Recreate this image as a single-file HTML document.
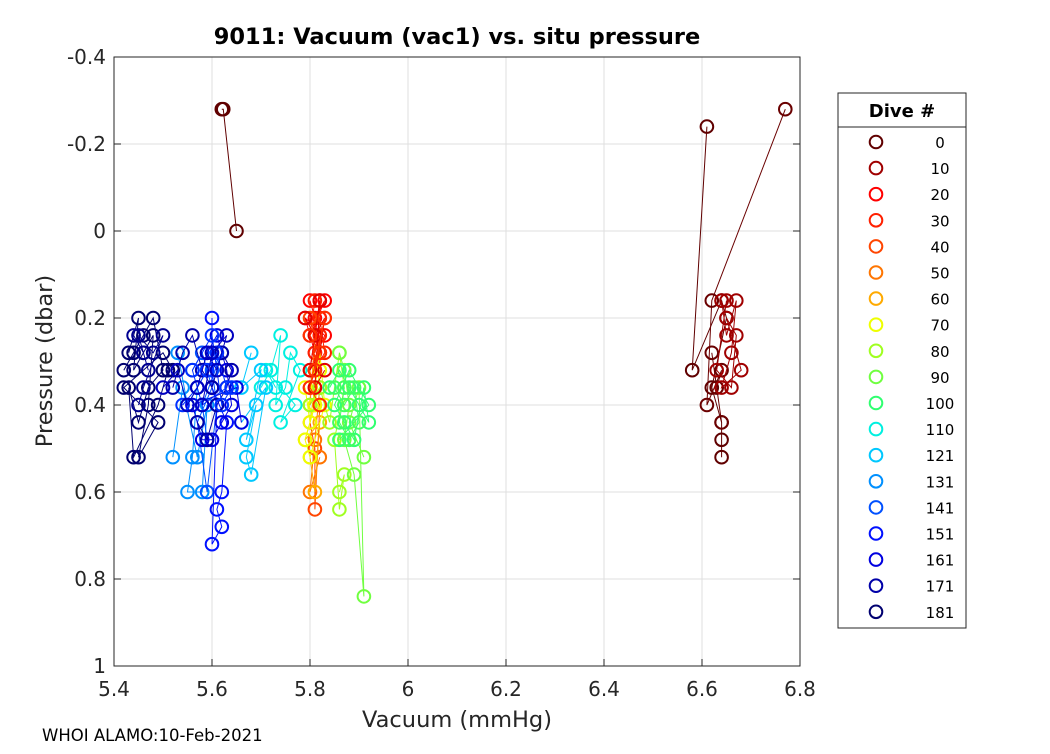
<!DOCTYPE html>
<html><head><meta charset="utf-8"><style>
body{margin:0;background:#fff;width:1050px;height:750px;overflow:hidden;font-family:"DejaVu Sans",sans-serif}
</style></head><body>
<svg id="chart" width="1050" height="750" xmlns="http://www.w3.org/2000/svg" font-family="DejaVu Sans, sans-serif">
<rect x="0" y="0" width="1050" height="750" fill="#fff"/>
<g id="grid"></g>
<g id="series"></g>
<rect x="114" y="57" width="686" height="609" fill="none" stroke="#262626" stroke-width="1"/>
<g id="ticks" font-size="20" fill="#262626"></g>
<text x="457" y="44" text-anchor="middle" font-size="22.5" font-weight="bold" fill="#000">9011: Vacuum (vac1) vs. situ pressure</text>
<text x="457" y="727" text-anchor="middle" font-size="22.5" fill="#262626">Vacuum (mmHg)</text>
<text transform="translate(52,361) rotate(-90)" text-anchor="middle" font-size="22.5" fill="#262626">Pressure (dbar)</text>
<text x="42" y="741" font-size="16.5" fill="#000">WHOI ALAMO:10-Feb-2021</text>
<g id="legend">
<rect x="838" y="93" width="128" height="535" fill="#fff" stroke="#262626" stroke-width="1"/>
<text x="902" y="117" text-anchor="middle" font-size="18" font-weight="bold" fill="#000">Dive #</text>
<line x1="838" y1="127" x2="966" y2="127" stroke="#262626" stroke-width="1"/>
</g>
</svg>
<script>
const legendLabels=["0","10","20","30","40","50","60","70","80","90","100","110","121","131","141","151","161","171","181"];
const legendColors=["#600000","#a00000","#ff0000","#ff2000","#ff4500","#ff7500","#ffaa00","#eeff00","#a0ff20","#70ff40","#30ff70","#00f0e0","#00c8ff","#0090ff","#0050ff","#0010ff","#0000e0","#0000a8","#000070"];
const xTicks=[5.4,5.6,5.8,6,6.2,6.4,6.6,6.8];
const xTickLabels=["5.4","5.6","5.8","6","6.2","6.4","6.6","6.8"];
const yTicks=[-0.4,-0.2,0,0.2,0.4,0.6,0.8,1];
const yTickLabels=["-0.4","-0.2","0","0.2","0.4","0.6","0.8","1"];
const diveColors=["#600000","#600000","#6a0000","#a00000","#ff0000","#ff2000","#ff4500","#ff7500","#ffaa00","#eeff00","#a0ff20","#70ff40","#30ff70","#00f0e0","#00c8ff","#0090ff","#0050ff","#0010ff","#0000e0","#0000a8","#000070","#000070","#e00000","#ff3000","#0030ff","#0000c0","#000090","#40ff60"];
const diveVac=[
[5.62,5.623,5.65],
[6.61,6.58,6.64,6.65,6.62,6.64,6.64,6.64],
[6.77,6.62,6.61,6.64,6.63,6.62,6.64],
[6.64,6.65,6.67,6.66,6.64,6.68,6.65,6.67,6.66,6.63,6.65],
[5.80,5.81,5.83,5.80,5.82,5.81,5.79,5.83,5.80,5.82],
[5.81,5.80,5.82,5.83,5.81,5.80,5.82,5.81],
[5.80,5.82,5.81,5.80,5.81,5.81,5.82],
[5.81,5.80,5.82,5.81,5.80,5.82],
[5.80,5.81,5.79,5.82,5.81,5.80],
[5.79,5.80,5.82,5.83,5.80,5.79,5.81,5.82],
[5.80,5.82,5.84,5.86,5.87,5.85,5.86,5.87,5.86],
[5.86,5.87,5.88,5.87,5.89,5.91,5.90,5.88,5.91],
[5.84,5.86,5.88,5.90,5.92,5.91,5.89,5.87,5.85,5.88,5.92,5.86],
[5.70,5.72,5.74,5.73,5.75,5.76,5.78,5.74,5.77,5.71,5.73],
[5.68,5.66,5.70,5.67,5.69,5.67,5.68,5.71,5.66],
[5.53,5.55,5.57,5.56,5.55,5.58,5.59,5.57,5.54,5.52],
[5.56,5.58,5.60,5.57,5.59,5.61,5.60,5.62,5.58,5.59],
[5.60,5.60,5.61,5.60,5.62,5.61,5.62,5.63,5.60],
[5.57,5.59,5.61,5.63,5.64,5.62,5.60,5.58,5.56,5.65,5.66],
[5.52,5.54,5.56,5.58,5.60,5.62,5.64,5.63,5.61,5.59,5.57],
[5.42,5.44,5.46,5.48,5.50,5.47,5.45,5.43,5.44,5.49,5.51],
[5.43,5.45,5.44,5.46,5.48,5.47,5.45,5.49,5.42,5.50,5.52],
[5.79,5.81,5.83,5.82,5.80,5.82,5.81,5.83],
[5.80,5.82,5.81,5.83,5.80,5.82],
[5.54,5.57,5.59,5.61,5.63,5.58,5.56,5.60,5.62,5.64],
[5.50,5.53,5.55,5.57,5.59,5.61,5.63,5.60,5.58],
[5.44,5.46,5.47,5.45,5.48,5.50,5.46,5.45],
[5.85,5.87,5.89,5.90,5.88,5.86,5.87]
];
const divePres=[
[-0.28,-0.28,0],
[-0.24,0.32,0.16,0.2,0.36,0.44,0.48,0.52],
[-0.28,0.16,0.4,0.32,0.36,0.28,0.44],
[0.16,0.24,0.16,0.28,0.36,0.32,0.2,0.24,0.36,0.32,0.16],
[0.16,0.2,0.16,0.24,0.2,0.28,0.2,0.24,0.32,0.16],
[0.16,0.24,0.2,0.28,0.32,0.36,0.24,0.28],
[0.2,0.28,0.36,0.44,0.5,0.64,0.4],
[0.24,0.4,0.36,0.48,0.6,0.52],
[0.32,0.4,0.48,0.44,0.6,0.52],
[0.36,0.44,0.28,0.4,0.52,0.48,0.4,0.32],
[0.4,0.36,0.44,0.28,0.36,0.48,0.64,0.56,0.6],
[0.28,0.32,0.4,0.48,0.56,0.84,0.36,0.44,0.52],
[0.36,0.32,0.36,0.4,0.44,0.36,0.48,0.44,0.4,0.32,0.4,0.48],
[0.36,0.32,0.24,0.4,0.36,0.28,0.32,0.44,0.4,0.32,0.36],
[0.28,0.36,0.32,0.48,0.4,0.52,0.56,0.36,0.44],
[0.28,0.4,0.36,0.52,0.6,0.6,0.4,0.52,0.36,0.52],
[0.32,0.28,0.36,0.44,0.6,0.4,0.32,0.28,0.4,0.48],
[0.2,0.36,0.4,0.72,0.68,0.64,0.6,0.44,0.36],
[0.36,0.28,0.24,0.32,0.4,0.44,0.48,0.48,0.4,0.36,0.44],
[0.36,0.28,0.24,0.32,0.36,0.28,0.32,0.36,0.4,0.48,0.44],
[0.32,0.28,0.24,0.2,0.32,0.36,0.44,0.36,0.52,0.4,0.32],
[0.28,0.2,0.32,0.28,0.24,0.4,0.52,0.44,0.36,0.28,0.32],
[0.2,0.24,0.2,0.28,0.32,0.16,0.36,0.32],
[0.24,0.28,0.32,0.2,0.36,0.4],
[0.4,0.36,0.32,0.28,0.36,0.4,0.32,0.24,0.4,0.36],
[0.36,0.32,0.4,0.36,0.28,0.32,0.24,0.28,0.4],
[0.24,0.28,0.32,0.24,0.28,0.24,0.36,0.4],
[0.36,0.4,0.36,0.44,0.48,0.44,0.36]
];
const NS="http://www.w3.org/2000/svg";
const X0=114,X1=800,Y0=57,Y1=666,XMIN=5.4,XMAX=6.8,YMIN=-0.4,YMAX=1;
function xs(v){return X0+(v-XMIN)/(XMAX-XMIN)*(X1-X0);}
function ys(v){return Y0+(v-YMIN)/(YMAX-YMIN)*(Y1-Y0);}
function mk(t,a){const e=document.createElementNS(NS,t);for(const k in a)e.setAttribute(k,a[k]);return e;}
const grid=document.getElementById('grid'),ticks=document.getElementById('ticks'),series=document.getElementById('series'),legend=document.getElementById('legend');
xTicks.forEach((v,i)=>{
  const x=xs(v);
  const g=mk('line',{x1:x,y1:Y0,x2:x,y2:Y1,stroke:'#dfdfdf','stroke-width':1});
  
  
  grid.appendChild(g);
  const tk=mk('line',{x1:x,y1:Y1,x2:x,y2:Y1-7,stroke:'#262626'});
  
  
  ticks.appendChild(tk);
  const t=mk('text',{x:x,y:Y1+30,'text-anchor':'middle'});
  
  
  t.textContent=xTickLabels[i];ticks.appendChild(t);
});
yTicks.forEach((v,i)=>{
  const y=ys(v);
  const g=mk('line',{x1:X0,y1:y,x2:X1,y2:y,stroke:'#dfdfdf','stroke-width':1});
  
  
  grid.appendChild(g);
  const tk=mk('line',{x1:X0,y1:y,x2:X0+7,y2:y,stroke:'#262626'});
  
  
  ticks.appendChild(tk);
  const tk2=mk('line',{x1:X1,y1:y,x2:X1-7,y2:y,stroke:'#262626'});
  
  
  ticks.appendChild(tk2);
  const t=mk('text',{x:X0-8,y:y+7,'text-anchor':'end'});
  
  
  t.textContent=yTickLabels[i];ticks.appendChild(t);
});
diveVac.forEach((vx,d)=>{
  const py=divePres[d],c=diveColors[d];
  const g=mk('g',{});
  
  
  const pts=vx.map((v,i)=>xs(v)+','+ys(py[i])).join(' ');
  const pl=mk('polyline',{points:pts,fill:'none',stroke:c,'stroke-width':1});
  
  
  g.appendChild(pl);
  vx.forEach((v,i)=>{
    const ci=mk('circle',{cx:xs(v),cy:ys(py[i]),r:6.3,fill:'none',stroke:c,'stroke-width':2});
    
    
    g.appendChild(ci);
  });
  series.appendChild(g);
});
legendLabels.forEach((l,i)=>{
  const y=142+i*26.1;
  const ci=mk('circle',{cx:876,cy:y,r:6.3,fill:'none',stroke:legendColors[i],'stroke-width':2});
  
  
  legend.appendChild(ci);
  const t=mk('text',{x:940,y:y+6,'text-anchor':'middle','font-size':15,fill:'#000'});
  
  
  t.textContent=l;legend.appendChild(t);
});
</script>
</body></html>
